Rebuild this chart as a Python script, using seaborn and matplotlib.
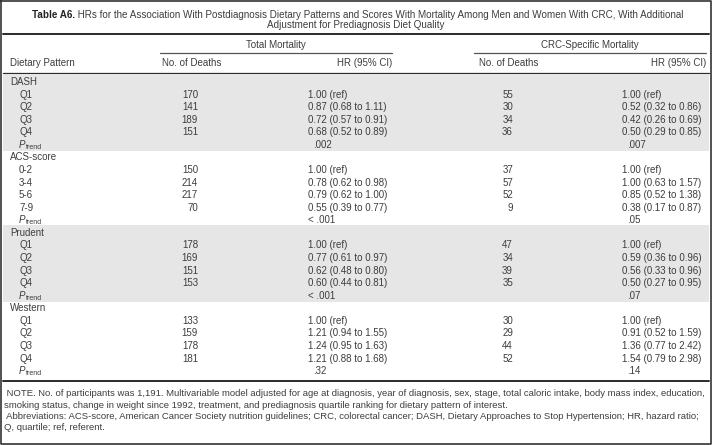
import matplotlib
matplotlib.use("Agg")
import matplotlib.pyplot as plt
import pandas as pd
import seaborn as sns

# ---- table content ----
groups = ['DASH', 'ACS-score', 'Prudent', 'Western']
levels = [
    ['Q1', 'Q2', 'Q3', 'Q4'],
    ['0-2', '3-4', '5-6', '7-9'],
    ['Q1', 'Q2', 'Q3', 'Q4'],
    ['Q1', 'Q2', 'Q3', 'Q4'],
]
total_deaths = [
    [170, 141, 189, 151],
    [150, 214, 217, 70],
    [178, 169, 151, 153],
    [133, 159, 178, 181],
]
total_hr = [
    ['1.00 (ref)', '0.87 (0.68 to 1.11)', '0.72 (0.57 to 0.91)', '0.68 (0.52 to 0.89)'],
    ['1.00 (ref)', '0.78 (0.62 to 0.98)', '0.79 (0.62 to 1.00)', '0.55 (0.39 to 0.77)'],
    ['1.00 (ref)', '0.77 (0.61 to 0.97)', '0.62 (0.48 to 0.80)', '0.60 (0.44 to 0.81)'],
    ['1.00 (ref)', '1.21 (0.94 to 1.55)', '1.24 (0.95 to 1.63)', '1.21 (0.88 to 1.68)'],
]
total_p = ['.002', '< .001', '< .001', '.32']
crc_deaths = [
    [55, 30, 34, 36],
    [37, 57, 52, 9],
    [47, 34, 39, 35],
    [30, 29, 44, 52],
]
crc_hr = [
    ['1.00 (ref)', '0.52 (0.32 to 0.86)', '0.42 (0.26 to 0.69)', '0.50 (0.29 to 0.85)'],
    ['1.00 (ref)', '1.00 (0.63 to 1.57)', '0.85 (0.52 to 1.38)', '0.38 (0.17 to 0.87)'],
    ['1.00 (ref)', '0.59 (0.36 to 0.96)', '0.56 (0.33 to 0.96)', '0.50 (0.27 to 0.95)'],
    ['1.00 (ref)', '0.91 (0.52 to 1.59)', '1.36 (0.77 to 2.42)', '1.54 (0.79 to 2.98)'],
]
crc_p = ['.007', '.05', '.07', '.14']

title_bold = 'Table A6.'
title_1 = ('HRs for the Association With Postdiagnosis Dietary Patterns and Scores '
           'With Mortality Among Men and Women With CRC, With Additional')
title_2 = 'Adjustment for Prediagnosis Diet Quality'
notes = [
    (' NOTE. No. of participants was 1,191. Multivariable model adjusted for age at diagnosis, '
     'year of diagnosis, sex, stage, total caloric intake, body mass index, education,'),
    ('smoking status, change in weight since 1992, treatment, and prediagnosis quartile '
     'ranking for dietary pattern of interest.'),
    (' Abbreviations: ACS-score, American Cancer Society nutrition guidelines; CRC, colorectal '
     'cancer; DASH, Dietary Approaches to Stop Hypertension; HR, hazard ratio;'),
    'Q, quartile; ref, referent.',
]

# long table: one row per printed line
rows = []
for g, lv, td, th, tp, cd, ch, cp in zip(groups, levels, total_deaths, total_hr,
                                         total_p, crc_deaths, crc_hr, crc_p):
    rows.append(dict(group=g, label=g, kind='group', td='', th='', cd='', ch=''))
    for l, a, b, c, d in zip(lv, td, th, cd, ch):
        rows.append(dict(group=g, label=l, kind='level', td=str(a), th=b, cd=str(c), ch=d))
    rows.append(dict(group=g, label='P', kind='p', td='', th=tp, cd='', ch=cp))
table = pd.DataFrame(rows)

sns.set_theme(style="white")
plt.rcParams['font.family'] = ['Liberation Sans', 'DejaVu Sans']

TXT = '#3d3d3d'
LINE = '#2b2b2b'
SHADE = '#e6e6e6'
FS = 7.0
FS_TITLE = 7.15
FS_NOTE = 6.8

fig = plt.figure(figsize=(7.12, 4.45), dpi=100)
ax = fig.add_axes([0, 0, 1, 1])
ax.set_xlim(0, 712)
ax.set_ylim(445, 0)
ax.axis('off')

# title
r = fig.canvas.get_renderer()
tb = ax.text(0, 14.5, title_bold, fontsize=FS_TITLE, fontweight='bold', color='#222222',
             va='center', ha='left')
t1 = ax.text(0, 14.5, ' ' + title_1, fontsize=FS_TITLE, color=TXT, va='center', ha='left')
wb = tb.get_window_extent(r).width
w1 = t1.get_window_extent(r).width
x0 = 358 - (wb + w1) / 2
tb.set_x(x0)
t1.set_x(x0 + wb)
ax.text(356, 25.5, title_2, fontsize=FS_TITLE, color=TXT, va='center', ha='center')
ax.plot([3, 709], [33.5, 33.5], color=LINE, lw=1.4)

# column headers
ax.text(276, 45.5, 'Total Mortality', fontsize=FS, color=TXT, va='center', ha='center')
ax.text(590, 45.5, 'CRC-Specific Mortality', fontsize=FS, color=TXT, va='center', ha='center')
ax.plot([160, 392], [53, 53], color='#555555', lw=0.9)
ax.plot([474, 706], [53, 53], color='#555555', lw=0.9)
ax.text(10, 63, 'Dietary Pattern', fontsize=FS, color=TXT, va='center')
ax.text(162, 63, 'No. of Deaths', fontsize=FS, color=TXT, va='center')
ax.text(392, 63, 'HR (95% CI)', fontsize=FS, color=TXT, va='center', ha='right')
ax.text(479, 63, 'No. of Deaths', fontsize=FS, color=TXT, va='center')
ax.text(706, 63, 'HR (95% CI)', fontsize=FS, color=TXT, va='center', ha='right')
ax.plot([3, 709], [72.5, 72.5], color=LINE, lw=0.9)

# body
y0, pitch = 82, 12.57
for i, grp in enumerate(groups):
    idx = table.index[table.group == grp]
    if i % 2 == 0:
        ax.axhspan(y0 + pitch * idx.min() - 7.5, y0 + pitch * idx.max() + 6.5,
                   xmin=3 / 712, xmax=709 / 712, color=SHADE, lw=0, zorder=0)

for i, row in table.iterrows():
    y = y0 + pitch * i
    if row.kind == 'group':
        ax.text(10, y, row.label, fontsize=FS, color=TXT, va='center')
        continue
    if row.kind == 'p':
        ax.text(19, y, 'P', fontsize=FS, color=TXT, va='center', style='italic')
        ax.text(26, y + 2.5, 'trend', fontsize=FS * 0.72, color=TXT, va='center')
        for x, val in ((308, row.th), (622, row.ch)):
            ax.text(x if val.startswith('<') else x + 5, y, val, fontsize=FS,
                    color=TXT, va='center')
        continue
    ax.text(19, y, row.label, fontsize=FS, color=TXT, va='center')
    ax.text(198, y, row.td, fontsize=FS, color=TXT, va='center', ha='right')
    ax.text(308, y, row.th, fontsize=FS, color=TXT, va='center')
    ax.text(513, y, row.cd, fontsize=FS, color=TXT, va='center', ha='right')
    ax.text(622, y, row.ch, fontsize=FS, color=TXT, va='center')

ax.plot([3, 709], [380.5, 380.5], color=LINE, lw=1.4)

# notes
for k, line in enumerate(notes):
    ax.text(4, 394 + 11.3 * k, line, fontsize=FS_NOTE, color=TXT, va='center')

# outer frame
ax.plot([0.8, 711.2, 711.2, 0.8, 0.8], [0.8, 0.8, 444.2, 444.2, 0.8],
        color='#333333', lw=1.2)

fig.savefig('out.png', dpi=100)
